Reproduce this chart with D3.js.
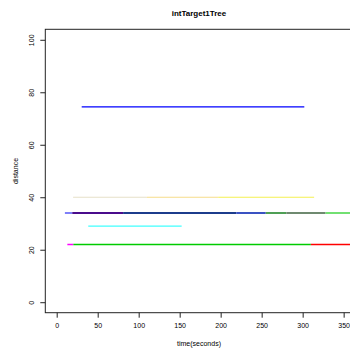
<!DOCTYPE html>
<html>
<head>
<script src="https://d3js.org/d3.v7.min.js"></script>
<style>
body { margin: 0; background: #fff; }
text { font-family: "Liberation Sans", Arial, sans-serif; fill: #000; }
</style>
</head>
<body>
<script>
// segments: start time, end time, distance
var segStart = [30.5, 20, 110, 197, 10, 19, 81, 219, 255, 280, 328, 38.5, 13, 20.3, 310];
var segEnd   = [302, 110, 197, 314, 19, 81, 219, 255, 280, 328, 380, 152.4, 20.3, 310, 380];
var segDist  = [74.4, 40, 40, 40, 34, 34, 34, 34, 34, 34, 34, 29, 22, 22, 22];

var segColors = ["#0000ff", "#e6e0c8", "#f6dc8a", "#f4f050", "#7f80f8", "#4a0c8c", "#1c3c8c",
                 "#3a52c2", "#4f9f55", "#6f8a70", "#72e072", "#40ffff", "#ff00ff", "#00cc00", "#ff0000"];
var segWidth = [1.3, 1.2, 1.2, 1.2, 1.8, 1.8, 1.8, 1.8, 1.8, 1.8, 1.8, 1.4, 1.4, 1.4, 1.4];

var xTicks = [0, 50, 100, 150, 200, 250, 300, 350];
var yTicks = [0, 20, 40, 60, 80, 100];

var W = 350, H = 356;
var plot = {left: 45.3, top: 29.3, right: 353, bottom: 312.7};

var x = d3.scaleLinear().domain([-13.9, 361.4]).range([plot.left, plot.right]);
var y = d3.scaleLinear().domain([-4, 104]).range([plot.bottom, plot.top]);

var svg = d3.select("body").append("svg")
    .attr("width", W)
    .attr("height", H);

svg.append("clipPath").attr("id", "clip")
  .append("rect")
    .attr("x", plot.left).attr("y", plot.top)
    .attr("width", plot.right - plot.left).attr("height", plot.bottom - plot.top);

var data = segStart.map(function(s, i) {
  return {s: s, e: segEnd[i], d: segDist[i], i: i};
});

svg.append("g")
    .attr("clip-path", "url(#clip)")
  .selectAll("line")
    .data(data)
  .enter().append("line")
    .attr("x1", function(d) { return x(d.s); })
    .attr("x2", function(d) { return x(d.e); })
    .attr("y1", function(d) { return y(d.d); })
    .attr("y2", function(d) { return y(d.d); })
    .attr("stroke", function(d) { return segColors[d.i]; })
    .attr("stroke-width", function(d) { return segWidth[d.i]; });

// box
svg.append("rect")
    .attr("x", plot.left).attr("y", plot.top)
    .attr("width", plot.right - plot.left).attr("height", plot.bottom - plot.top)
    .attr("fill", "none")
    .attr("stroke", "#222")
    .attr("stroke-width", 1);

// x axis
var xAxis = d3.axisBottom(x).tickValues(xTicks).tickSize(5).tickPadding(5);
var gx = svg.append("g")
    .attr("transform", "translate(0," + plot.bottom + ")")
    .call(xAxis);
gx.select(".domain").remove();
gx.selectAll("line").attr("stroke", "#222");
gx.selectAll("text").style("font-size", "7px").attr("fill", "#333");

// y axis
var yAxis = d3.axisLeft(y).tickValues(yTicks).tickSize(5).tickPadding(0);
var gy = svg.append("g")
    .attr("transform", "translate(" + plot.left + ",0)")
    .call(yAxis);
gy.select(".domain").remove();
gy.selectAll("line").attr("stroke", "#222");
gy.selectAll("text")
    .style("font-size", "7px")
    .attr("fill", "#333")
    .attr("x", 0).attr("dy", 0)
    .attr("text-anchor", "middle")
    .attr("transform", "translate(-11,0) rotate(-90)");

// labels
svg.append("text")
    .attr("x", 199).attr("y", 16)
    .attr("text-anchor", "middle")
    .style("font-size", "8px")
    .style("font-weight", "bold")
    .text("intTarget1Tree");

svg.append("text")
    .attr("x", 199).attr("y", 346)
    .attr("text-anchor", "middle")
    .style("font-size", "7px")
    .attr("fill", "#333")
    .text("time(seconds)");

svg.append("text")
    .attr("transform", "translate(17.5,171) rotate(-90)")
    .attr("text-anchor", "middle")
    .style("font-size", "7px")
    .attr("fill", "#333")
    .text("distance");
</script>
</body>
</html>
